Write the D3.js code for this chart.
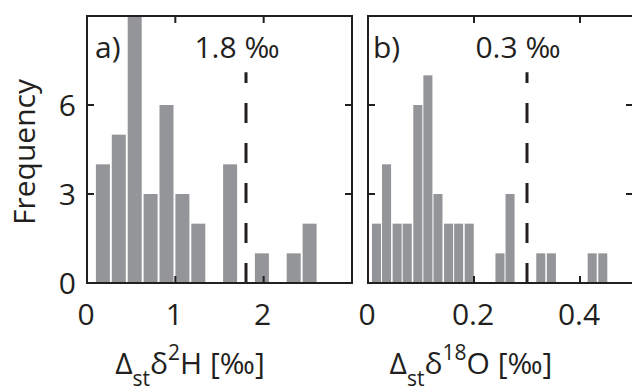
<!DOCTYPE html>
<html>
<head>
<meta charset="utf-8">
<script src="https://cdn.jsdelivr.net/npm/d3@7"></script>
<style>
  body { margin: 0; background: #fff; }
  svg text { font-family: "Open Sans", sans-serif; fill: #231f20; }
</style>
</head>
<body>
<div id="chart"></div>
<script>
// histogram bin centres and counts
const H_BINS   = [0.18, 0.36, 0.54, 0.72, 0.90, 1.08, 1.26, 1.44, 1.62, 1.80, 1.98, 2.16, 2.34, 2.52];
const H_COUNTS = [4, 5, 9, 3, 6, 3, 2, 0, 4, 0, 1, 0, 1, 2];
const O_BINS   = [0.016, 0.035, 0.055, 0.074, 0.094, 0.113, 0.132, 0.152, 0.171, 0.191, 0.210, 0.229,
                  0.249, 0.268, 0.287, 0.307, 0.326, 0.346, 0.365, 0.384, 0.404, 0.423, 0.443];
const O_COUNTS = [2, 4, 2, 2, 6, 7, 3, 2, 2, 2, 0, 0, 1, 3, 0, 0, 1, 1, 0, 0, 0, 1, 1];
const H_XTICKS = [0, 1, 2];
const O_XTICKS = [0, 0.2, 0.4];
const Y_TICKS = [0, 3, 6];
const H_THRESHOLD = 1.8;
const O_THRESHOLD = 0.3;

const WIDTH = 632;
const HEIGHT = 391;
const TOP = 16;
const BOTTOM = 283;
const BAR_COLOR = "#939598";
const INK = "#231f20";
const TICK_LEN = 7;

const svg = d3.select("#chart")
              .append("svg")
              .attr("width", WIDTH)
              .attr("height", HEIGHT);

const yScale = d3.scaleLinear().domain([0, 9]).range([BOTTOM, TOP]);

// y label
svg.append("text")
   .attr("transform", "translate(35," + 152 + ") rotate(-90)")
   .attr("text-anchor", "middle")
   .style("font-size", "30px")
   .text("Frequency");

function drawPanel(p) {
    const xScale = d3.scaleLinear().domain(p.domain).range([p.left, p.right]);
    const g = svg.append("g");
    const bw = p.binWidth * 0.88;

    g.selectAll("rect.bar")
     .data(p.bins.map((b, i) => ({x: b, n: p.counts[i]})).filter(d => d.n > 0))
     .enter()
     .append("rect")
     .attr("class", "bar")
     .attr("x", d => xScale(d.x - bw / 2))
     .attr("width", d => xScale(d.x + bw / 2) - xScale(d.x - bw / 2))
     .attr("y", d => yScale(d.n))
     .attr("height", d => yScale(0) - yScale(d.n))
     .attr("fill", BAR_COLOR);

    // threshold line, dashes start at the bottom
    g.append("line")
     .attr("x1", xScale(p.threshold)).attr("x2", xScale(p.threshold))
     .attr("y1", yScale(0)).attr("y2", yScale(7.1))
     .attr("stroke", INK)
     .attr("stroke-width", 3)
     .attr("stroke-dasharray", "20,20");

    // box
    g.append("rect")
     .attr("x", p.left).attr("y", TOP)
     .attr("width", p.right - p.left).attr("height", BOTTOM - TOP)
     .attr("fill", "none")
     .attr("stroke", INK)
     .attr("stroke-width", 2);

    // inward ticks on all four sides
    const xt = p.xticks.filter(t => t > p.domain[0]);
    g.selectAll("line.xtb").data(xt).enter().append("line")
     .attr("x1", d => xScale(d)).attr("x2", d => xScale(d))
     .attr("y1", BOTTOM).attr("y2", BOTTOM - TICK_LEN)
     .attr("stroke", INK).attr("stroke-width", 2);
    g.selectAll("line.xtt").data(xt).enter().append("line")
     .attr("x1", d => xScale(d)).attr("x2", d => xScale(d))
     .attr("y1", TOP).attr("y2", TOP + TICK_LEN)
     .attr("stroke", INK).attr("stroke-width", 2);
    const yt = Y_TICKS.filter(t => t > 0);
    g.selectAll("line.ytl").data(yt).enter().append("line")
     .attr("x1", p.left).attr("x2", p.left + TICK_LEN)
     .attr("y1", d => yScale(d)).attr("y2", d => yScale(d))
     .attr("stroke", INK).attr("stroke-width", 2);
    g.selectAll("line.ytr").data(yt).enter().append("line")
     .attr("x1", p.right).attr("x2", p.right - TICK_LEN)
     .attr("y1", d => yScale(d)).attr("y2", d => yScale(d))
     .attr("stroke", INK).attr("stroke-width", 2);

    // tick labels
    g.selectAll("text.xl").data(p.xticks).enter().append("text")
     .attr("x", d => xScale(d) - 1)
     .attr("y", 325)
     .attr("text-anchor", "middle")
     .style("font-size", "30px")
     .text(d => d3.format("~g")(d));

    if (p.yLabels) {
        g.selectAll("text.yl").data(Y_TICKS).enter().append("text")
         .attr("x", p.left - 11)
         .attr("y", d => yScale(d) + 11)
         .attr("text-anchor", "end")
         .style("font-size", "30px")
         .text(d => d);
    }

    // panel letter and threshold value
    g.append("text")
     .attr("x", p.left + p.letterDx).attr("y", 58)
     .style("font-size", "30px")
     .text(p.letter);
    g.append("text")
     .attr("x", xScale(p.threshold) - 9).attr("y", 58)
     .attr("text-anchor", "middle")
     .style("font-size", "30px")
     .text(p.threshold + " \u2030");

    // x label with sub/superscripts
    const lab = g.append("text")
     .attr("x", p.left + 103).attr("y", 374)
     .attr("text-anchor", "middle")
     .style("font-size", "30px");
    lab.append("tspan").text("\u0394");
    lab.append("tspan").attr("dy", 12).style("font-size", "21px").text("st");
    lab.append("tspan").attr("dy", -12).text("\u03b4");
    lab.append("tspan").attr("dy", -14).style("font-size", "21px").text(p.sup);
    lab.append("tspan").attr("dy", 14).text(p.base + " [\u2030]");
}

drawPanel({left: 87, right: 352, domain: [0, 3], bins: H_BINS, counts: H_COUNTS, binWidth: 0.18,
           xticks: H_XTICKS, threshold: H_THRESHOLD, letter: "a)", letterDx: 8,
           sup: "2", base: "H", yLabels: true});
drawPanel({left: 368, right: 633, domain: [0, 0.5], bins: O_BINS, counts: O_COUNTS, binWidth: 0.0194,
           xticks: O_XTICKS, threshold: O_THRESHOLD, letter: "b)", letterDx: 5,
           sup: "18", base: "O", yLabels: false});
</script>
</body>
</html>
